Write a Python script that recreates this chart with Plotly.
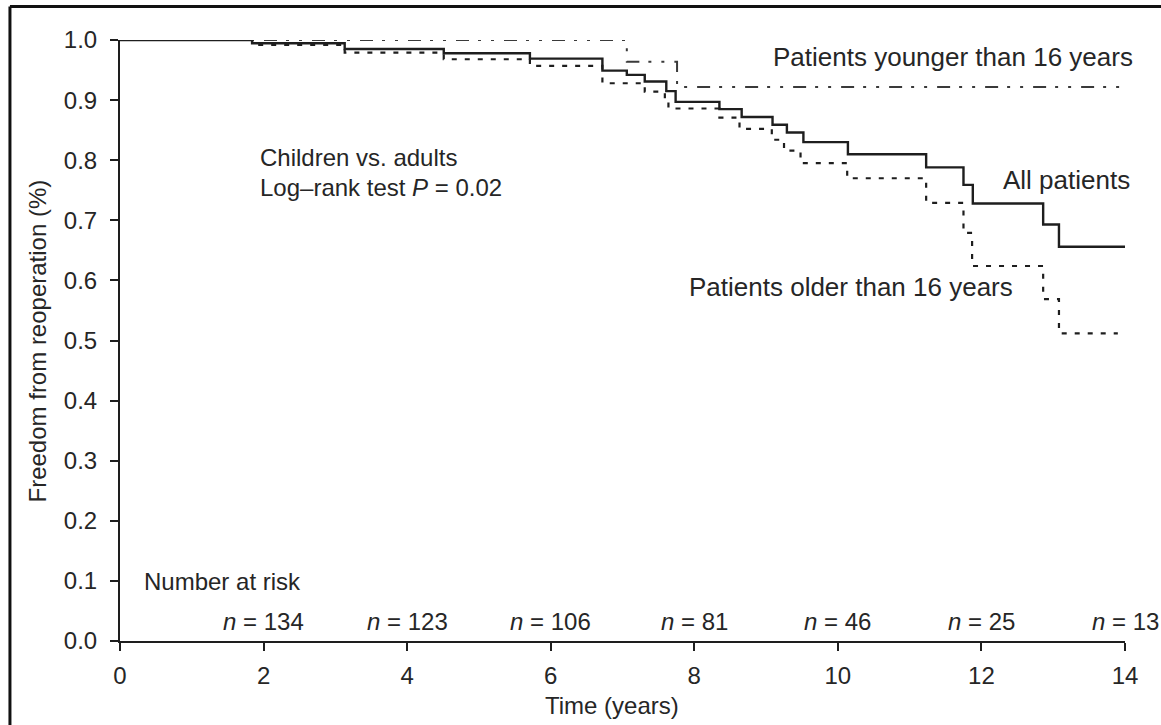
import plotly.graph_objects as go

# ---- data ----
all_t = [0, 1.84, 3.13, 4.51, 5.71, 6.72, 7.06, 7.31, 7.61, 7.74, 8.35, 8.66, 9.09, 9.29, 9.52, 10.14, 11.23, 11.75, 11.88, 12.86, 13.08, 14.0]
all_s = [1.0, 0.9945, 0.985, 0.978, 0.969, 0.949, 0.942, 0.931, 0.915, 0.897, 0.885, 0.872, 0.859, 0.846, 0.830, 0.810, 0.788, 0.759, 0.728, 0.693, 0.656, 0.656]

old_t = [0, 1.84, 3.13, 4.51, 5.71, 6.72, 7.31, 7.59, 7.64, 8.35, 8.63, 9.08, 9.25, 9.48, 10.13, 11.23, 11.75, 11.87, 12.86, 13.08, 13.9]
old_s = [1.0, 0.992, 0.979, 0.968, 0.957, 0.928, 0.914, 0.900, 0.886, 0.871, 0.852, 0.834, 0.816, 0.795, 0.770, 0.729, 0.679, 0.624, 0.569, 0.512, 0.512]

young_t = [0, 7.06, 7.76, 14.0]
young_s = [1.0, 0.964, 0.922, 0.922]

risk_t = [2, 4, 6, 8, 10, 12, 14]
risk_n = [134, 123, 106, 81, 46, 25, 13]

x_ticks = [0, 2, 4, 6, 8, 10, 12, 14]
y_ticks = [0.0, 0.1, 0.2, 0.3, 0.4, 0.5, 0.6, 0.7, 0.8, 0.9, 1.0]

FONT = "Liberation Sans, Arial, Helvetica, sans-serif"
TXT = "#262626"
LINE = "#1e1e1e"
FS = 24
FS_CURVE = 26

fig = go.Figure()
fig.add_trace(go.Scatter(x=young_t, y=young_s, mode="lines", line_shape="hv",
                         line=dict(color="#3a3a3a", width=2, dash="13px,9px,3px,10px,3px,10px"),
                         name="Patients younger than 16 years", showlegend=False))
fig.add_trace(go.Scatter(x=old_t, y=old_s, mode="lines", line_shape="hv",
                         line=dict(color=LINE, width=2.2, dash="5px,8px"),
                         name="Patients older than 16 years", showlegend=False))
fig.add_trace(go.Scatter(x=all_t, y=all_s, mode="lines", line_shape="hv",
                         line=dict(color=LINE, width=2.4),
                         name="All patients", showlegend=False))

ann = []
def add(text, x, y, xanchor="center", xref="x", yref="y", angle=0, size=FS):
    ann.append(dict(text=text, x=x, y=y, xref=xref, yref=yref, xanchor=xanchor,
                    yanchor="middle", showarrow=False, textangle=angle,
                    font=dict(family=FONT, size=size, color=TXT)))

add("Patients younger than 16 years", 1.010, 0.972, "right", "paper", "y", size=FS_CURVE)
add("All patients", 1.007, 0.767, "right", "paper", "y", size=FS_CURVE)
add("Patients older than 16 years", 12.47, 0.589, "right", size=FS_CURVE)
add("Children vs. adults", 1.92, 0.804, "left")
add("Log\u2013rank test <i>P</i> = 0.02", 1.92, 0.754, "left")
add("Number at risk", 0.306, 0.0998, "left")
for t, n in zip(risk_t, risk_n):
    add(f"<i>n</i> = {n}", t, 0.032, "center")
add("Freedom from reoperation (%)", -0.0816, 0.5, "center", "paper", "paper", -90)
add("Time (years)", 0.4896, -0.108, "center", "paper", "paper")

fig.update_layout(
    width=1161, height=725,
    margin=dict(l=120, r=36, t=40, b=84),
    paper_bgcolor="white", plot_bgcolor="white",
    annotations=ann,
    shapes=[
        dict(type="line", xref="paper", yref="paper", x0=-0.1095, x1=-0.1095, y0=-0.2, y1=1.0557,
             line=dict(color="#111", width=3)),
        dict(type="line", xref="paper", yref="paper", x0=-0.1095, x1=1.1, y0=1.0557, y1=1.0557,
             line=dict(color="#111", width=3)),
    ],
)
fig.update_xaxes(range=[0, 14], tickvals=x_ticks, ticktext=[str(v) for v in x_ticks],
                 showgrid=False, zeroline=False, showline=True, linecolor=LINE, linewidth=2,
                 ticks="outside", ticklen=8, tickwidth=2, tickcolor=LINE,
                 tickfont=dict(family=FONT, size=FS, color=TXT), ticklabelstandoff=4)
fig.update_yaxes(range=[0, 1], tickvals=y_ticks, ticktext=[f"{v:.1f}" for v in y_ticks],
                 showgrid=False, zeroline=False, showline=True, linecolor=LINE, linewidth=2,
                 ticks="outside", ticklen=8, tickwidth=2, tickcolor=LINE,
                 tickfont=dict(family=FONT, size=FS, color=TXT), ticklabelstandoff=8)

fig.write_html("out.html")
